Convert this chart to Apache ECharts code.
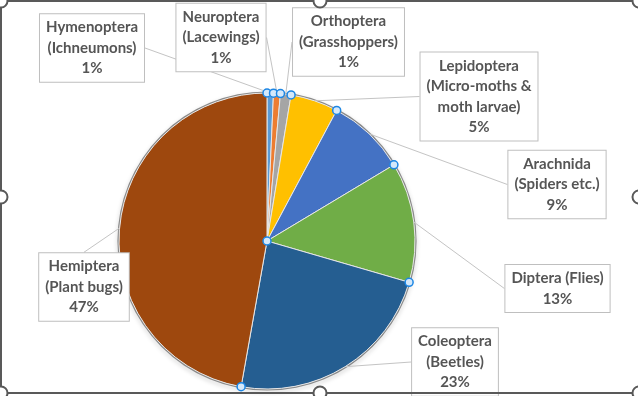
<!DOCTYPE html>
<html>
<head>
<meta charset="utf-8">
<script src="https://cdn.jsdelivr.net/npm/echarts@6/dist/echarts.min.js"></script>
<style>
html,body{margin:0;padding:0;background:#fff;}
#chart{width:638px;height:396px;}
</style>
</head>
<body>
<div id="chart"></div>
<script>
const categories = [
  'Hymenoptera\n(Ichneumons)',
  'Neuroptera\n(Lacewings)',
  'Orthoptera\n(Grasshoppers)',
  'Lepidoptera\n(Micro-moths &\nmoth larvae)',
  'Arachnida\n(Spiders etc.)',
  'Diptera (Flies)',
  'Coleoptera\n(Beetles)',
  'Hemiptera\n(Plant bugs)'
];
const values = [0.7, 0.75, 1.15, 5.2, 8.6, 13.1, 23.3, 47.2];
const palette = ['#5B9BD5', '#ED7D31', '#A5A5A5', '#FFC000', '#4472C4', '#70AD47', '#255E91', '#9E480E'];
// label box centres (layout only)
const labelCentres = [
  [92, 48], [221, 37.5], [348.5, 42], [479, 96.5],
  [557, 184.5], [557.5, 288.5], [455, 362], [84, 287]
];

const CENTER = [267, 241];
const R = 148;
const total = values.reduce((a, b) => a + b, 0);
const bounds = [];
let acc = 0;
values.forEach(v => { bounds.push([1, acc]); acc += v; });
bounds.push([0, 0]);

const chart = echarts.init(document.getElementById('chart'), null, {renderer: 'canvas'});
const handle = (x, y) => ({
  type: 'circle', shape: {cx: x, cy: y, r: 6.5},
  style: {fill: '#fff', stroke: '#595959', lineWidth: 2}, z: 100
});
chart.setOption({
  animation: false,
  backgroundColor: '#fff',
  polar: {center: CENTER, radius: R},
  angleAxis: {type: 'value', min: 0, max: total, startAngle: 90, clockwise: true, show: false},
  radiusAxis: {type: 'value', min: 0, max: 1, show: false},
  series: [
    {
      type: 'pie',
      center: CENTER,
      radius: [R, R + 1.6],
      silent: true,
      label: {show: false}, labelLine: {show: false},
      itemStyle: {color: '#8a8a8a', borderWidth: 0, shadowBlur: 4, shadowColor: 'rgba(0,0,0,0.25)', shadowOffsetY: 2},
      data: [{value: 1, name: 'ring'}],
      z: 1
    },
    {
      type: 'pie',
      center: CENTER,
      radius: [0, R],
      startAngle: 90,
      clockwise: true,
      avoidLabelOverlap: false,
      color: palette,
      itemStyle: {borderColor: '#e6e6e6', borderWidth: 1},
      label: {
        show: true,
        formatter: p => p.name + '\n' + Math.round(p.percent) + '%',
        fontFamily: 'Lato',
        fontWeight: 'bold',
        fontSize: 15,
        lineHeight: 20.5,
        color: '#555555',
        backgroundColor: '#fff',
        borderColor: '#bfbfbf',
        borderWidth: 1,
        padding: [3, 6],
        align: 'center'
      },
      labelLine: {show: true, length: 0, length2: 0, lineStyle: {color: '#c4c4c4', width: 1}},
      labelLayout: p => ({
        x: labelCentres[p.dataIndex][0],
        y: labelCentres[p.dataIndex][1],
        align: 'center',
        verticalAlign: 'middle'
      }),
      data: categories.map((c, i) => ({name: c, value: values[i]})),
      z: 2
    },
    {
      type: 'scatter',
      coordinateSystem: 'polar',
      symbol: 'circle',
      symbolSize: 8,
      silent: true,
      itemStyle: {color: '#d4e8fa', borderColor: '#1c86e4', borderWidth: 1.5, opacity: 1},
      data: bounds,
      z: 5
    }
  ],
  graphic: [
    {type: 'rect', shape: {x: 1, y: 1, width: 638, height: 392},
     style: {fill: 'none', stroke: '#595959', lineWidth: 2}, z: 99},
    handle(1, 1), handle(320, 1), handle(639, 1),
    handle(1, 197), handle(639, 197),
    handle(1, 393), handle(320, 393), handle(639, 393)
  ]
});
</script>
</body>
</html>
